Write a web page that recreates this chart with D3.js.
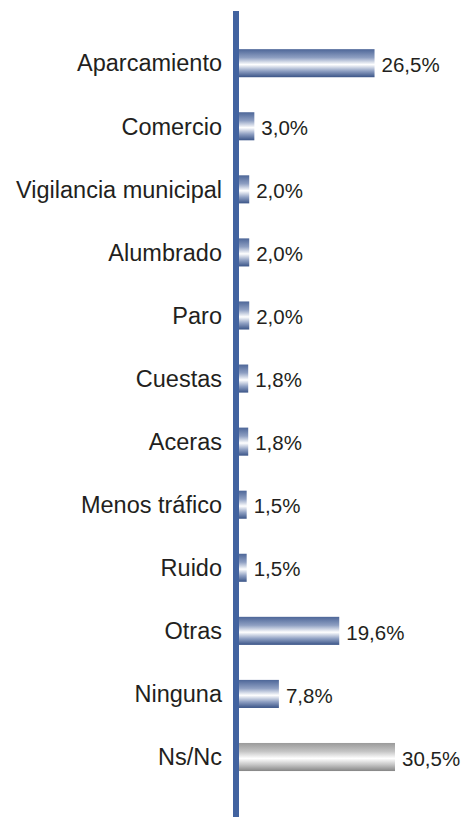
<!DOCTYPE html>
<html>
<head>
<meta charset="utf-8">
<script src="https://cdn.jsdelivr.net/npm/d3@7"></script>
<style>
  body { margin: 0; background: #fff; }
  svg text { font-family: "Liberation Sans", Arial, sans-serif; fill: #231f20; }
</style>
</head>
<body>
<div id="chart"></div>
<script>
// data
const categories = ['Aparcamiento', 'Comercio', 'Vigilancia municipal', 'Alumbrado', 'Paro',
  'Cuestas', 'Aceras', 'Menos tráfico', 'Ruido', 'Otras', 'Ninguna', 'Ns/Nc'];
const values = [26.5, 3.0, 2.0, 2.0, 2.0, 1.8, 1.8, 1.5, 1.5, 19.6, 7.8, 30.5];
const greyCategories = ['Ns/Nc'];

const width = 463, height = 817;
const axisX = 236;

const svg = d3.select('#chart')
  .append('svg')
  .attr('width', width)
  .attr('height', height);

const defs = svg.append('defs');
function addGradient(id, edgeTop, mid, edgeBottom) {
  const g = defs.append('linearGradient')
    .attr('id', id)
    .attr('x1', 0).attr('y1', 0).attr('x2', 0).attr('y2', 1);
  g.append('stop').attr('offset', '0%').attr('stop-color', edgeTop);
  g.append('stop').attr('offset', '30%').attr('stop-color', mid);
  g.append('stop').attr('offset', '55%').attr('stop-color', '#ffffff');
  g.append('stop').attr('offset', '78%').attr('stop-color', mid);
  g.append('stop').attr('offset', '100%').attr('stop-color', edgeBottom);
}
addGradient('blueGrad', '#4d6698', '#8e9fc2', '#3a5487');
addGradient('greyGrad', '#9a9a9a', '#c4c4c4', '#858585');

const xScale = d3.scaleLinear()
  .domain([0, 30.5])
  .range([axisX + 3, 395]);

const yScale = d3.scaleBand()
  .domain(categories)
  .range([31.5, 788.7])
  .paddingInner(0.555)
  .paddingOuter(0.28);

svg.selectAll('.bar')
  .data(categories)
  .enter().append('rect')
  .attr('class', 'bar')
  .attr('x', xScale(0))
  .attr('y', d => yScale(d))
  .attr('width', (d, i) => xScale(values[i]) - xScale(0))
  .attr('height', yScale.bandwidth())
  .attr('fill', d => greyCategories.includes(d) ? 'url(#greyGrad)' : 'url(#blueGrad)');

svg.selectAll('.value')
  .data(categories)
  .enter().append('text')
  .attr('class', 'value')
  .attr('x', (d, i) => xScale(values[i]) + 7)
  .attr('y', d => yScale(d) + yScale.bandwidth() / 2 + 1.5)
  .attr('dy', '0.35em')
  .style('font-size', '20.5px')
  .text((d, i) => d3.format('.1f')(values[i]).replace('.', ',') + '%');

const axisG = svg.append('g')
  .attr('transform', `translate(${axisX - 8}, 0)`)
  .call(d3.axisLeft(yScale).tickSize(0).tickPadding(6));
axisG.select('.domain').remove();
axisG.selectAll('text')
  .style('font-size', '23.5px')
  .attr('dy', '0.35em');

svg.append('line')
  .attr('x1', axisX).attr('x2', axisX)
  .attr('y1', 11).attr('y2', height)
  .attr('stroke', '#4263a0')
  .attr('stroke-width', 6);
</script>
</body>
</html>
